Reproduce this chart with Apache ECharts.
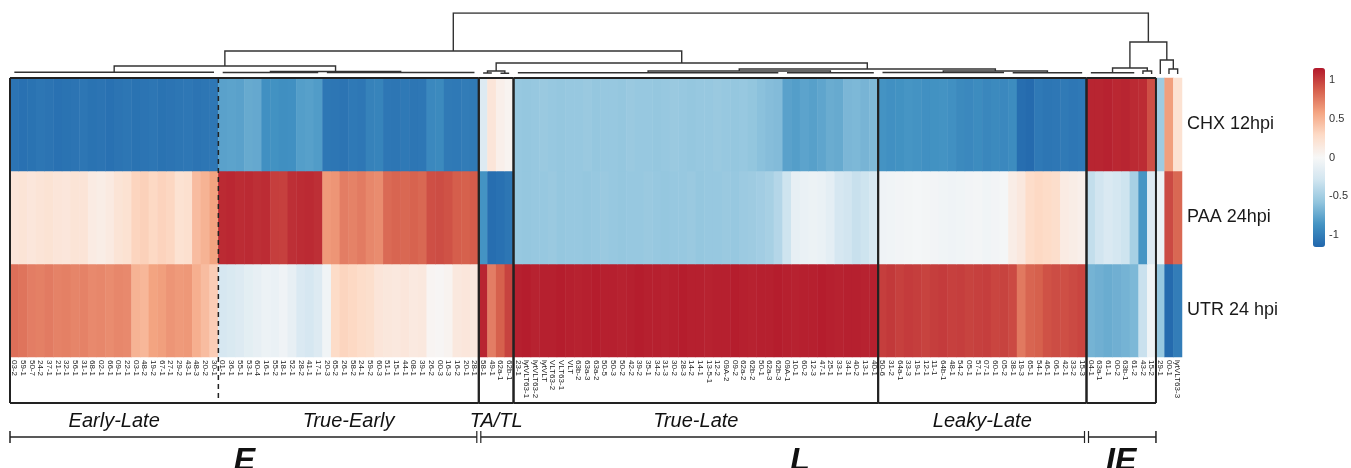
<!DOCTYPE html>
<html><head><meta charset="utf-8">
<script src="https://cdn.jsdelivr.net/npm/echarts@6/dist/echarts.min.js"></script>
<style>html,body{margin:0;padding:0;background:#fff}#c{width:1351px;height:468px}</style>
</head><body><div id="c"></div>
<script>
// ---------------- data ----------------
const earlyLate = ['03-2','59-1','50-7','24-2','37-1','21-1','32-1','56-1','31-1','68-1','02-1','66-1','09-1','22-1','03-1','48-2','19-2','67-1','27-1','29-2','43-1','48-3','20-2','30-1'];
const trueEarly = ['01-1','36-1','55-1','53-1','60-4','16-1','55-2','18-1','52-1','28-2','41-1','17-1','20-3','65-2','26-1','58-2','24-1','59-2','60-3','51-1','15-1','44-1','08-1','39-1','26-2','00-3','16-3','16-2','20-1','28-1'];
const taTl = ['58-1','49-1','62a-1','62b-1'];
const trueLate = ['23-1','lytVLT63-1','lytVLT63-2','lytVLT','VLT63-2','VLT63-1','VLT','63b-2','63a-3','63a-2','50-5','50-3','50-2','42-2','39-2','35-1','34-2','31-3','30-2','28-3','14-2','14-1','13-5-1','12-2','09A-2','09-2','62a-2','62b-2','50-1','62a-3','62b-3','09A-1','10-1','60-2','12-3','47-1','25-1','33-1','34-1','40-2','13-1','40-1'];
const leakyLate = ['50-6','31-2','64a-1','33-3','19-1','12-1','11-1','64b-1','48-1','54-2','05-1','57-1','07-1','60-1','05-2','38-1','19-3','65-1','54-1','46-1','06-1','42-1','33-2','15-3'];
const immediateEarly = ['04-1','63a-1','61-1','00-2','63b-1','61-2','43-2','15-2'];
const outliers = ['29-1','00-1','lytVLT63-3'];

const rowNames = ['UTR 24 hpi','PAA 24hpi','CHX 12hpi'];

const chxValues = [
 -1.06,-1.08,-1.07,-1.05,-1.06,-1.08,-1.07,-1.06,-1.05,-1.07,-1.06,-1.08,-1.06,-1.05,-1.07,-1.06,-1.05,-1.07,-1.06,-1.05,-1.04,-1.06,-1.05,-1.04,
 -0.78,-0.77,-0.78,-0.73,-0.74,-0.88,-0.87,-0.89,-0.88,-0.8,-0.79,-0.81,-1.04,-1.05,-1.06,-1.03,-1.04,-0.97,-0.96,-1.04,-1.05,-1.03,-1.05,-1.04,-0.93,-0.92,-1.02,-1.03,-1.01,-1.02,
 -0.2,0.18,0.08,0.04,
 -0.55,-0.56,-0.55,-0.54,-0.55,-0.56,-0.55,-0.55,-0.54,-0.56,-0.55,-0.55,-0.56,-0.54,-0.55,-0.55,-0.56,-0.55,-0.54,-0.55,-0.56,-0.55,-0.55,-0.54,-0.55,-0.56,-0.55,-0.57,-0.6,-0.62,-0.63,-0.78,-0.8,-0.77,-0.79,-0.76,-0.72,-0.73,-0.66,-0.65,-0.67,-0.64,
 -0.86,-0.88,-0.87,-0.85,-0.86,-0.88,-0.87,-0.86,-0.88,-0.92,-0.93,-0.91,-0.94,-0.92,-0.93,-0.91,-1.1,-1.12,-1.03,-1.05,-1.04,-1.02,-1.04,-1.03,
 1.1,1.1,1.11,1.09,1.1,1.08,1.07,0.93,
 -0.52,0.6,0.22
];
const paaValues = [
 0.18,0.2,0.17,0.19,0.21,0.18,0.17,0.2,0.19,0.12,0.1,0.13,0.2,0.22,0.32,0.34,0.3,0.33,0.31,0.22,0.24,0.45,0.5,0.58,
 1.08,1.09,1.07,1.08,1.06,1.07,1.0,0.99,1.06,1.07,1.08,1.06,0.62,0.64,0.74,0.72,0.75,0.7,0.68,0.82,0.84,0.83,0.85,0.83,0.93,0.94,0.92,0.87,0.86,0.88,
 -0.86,-1.1,-1.08,-1.05,
 -0.55,-0.56,-0.55,-0.55,-0.54,-0.56,-0.55,-0.55,-0.56,-0.55,-0.54,-0.55,-0.56,-0.55,-0.55,-0.54,-0.55,-0.56,-0.55,-0.55,-0.54,-0.56,-0.55,-0.55,-0.54,-0.55,-0.53,-0.52,-0.5,-0.48,-0.42,-0.3,-0.12,-0.1,-0.08,-0.1,-0.14,-0.25,-0.28,-0.33,-0.3,-0.24,
 -0.06,-0.05,-0.04,-0.03,-0.02,-0.03,-0.04,-0.05,-0.06,-0.05,-0.04,-0.03,-0.05,-0.04,-0.02,0.1,0.15,0.27,0.3,0.28,0.26,0.12,0.1,0.08,
 -0.35,-0.28,-0.22,-0.26,-0.3,-0.48,-0.85,-0.2,
 -0.08,0.95,0.83
];
const utrValues = [
 0.8,0.78,0.74,0.73,0.75,0.72,0.73,0.71,0.72,0.69,0.7,0.68,0.7,0.69,0.5,0.48,0.58,0.6,0.64,0.62,0.63,0.52,0.45,0.36,
 -0.25,-0.23,-0.2,-0.15,-0.12,-0.08,-0.1,-0.06,-0.12,-0.22,-0.25,-0.2,-0.05,0.28,0.32,0.3,0.27,0.25,0.18,0.16,0.15,0.17,0.14,0.15,0.03,0.02,0.04,0.15,0.17,0.14,
 1.1,0.74,0.86,0.98,
 1.12,1.13,1.11,1.12,1.12,1.13,1.12,1.11,1.12,1.13,1.12,1.12,1.11,1.12,1.13,1.12,1.12,1.11,1.12,1.13,1.12,1.12,1.11,1.12,1.12,1.13,1.12,1.11,1.12,1.12,1.13,1.12,1.11,1.12,1.12,1.13,1.12,1.11,1.12,1.12,1.11,1.12,
 1.0,1.02,0.99,1.01,1.0,0.98,1.0,1.01,0.99,1.0,0.98,0.99,1.0,0.97,0.98,0.95,0.76,0.84,0.86,0.92,0.94,0.93,0.95,0.97,
 -0.68,-0.7,-0.72,-0.7,-0.68,-0.65,-0.32,-0.05,
 -0.55,-1.12,-1.0
];

const legendTicks = [-1, -0.5, 0, 0.5, 1];
const groupNames = ['Early-Late','True-Early','TA/TL','True-Late','Leaky-Late'];
const classNames = ['E','L','IE'];

// dendrogram (column indices, merge heights)
const dendrogram = {h:61, c:[
  {h:23, c:[
    {h:8, c:[ {r:[0,23], h:1.7}, {h:2.5, c:[{r:[24,35], h:1.5}, {r:[36,53], h:1.5}]} ]},
    {h:11, c:[
      {h:3, c:[{r:[54,55], h:1}, {r:[56,57], h:0.8}]},
      {h:5, c:[
        {h:3, c:[{r:[58,88], h:1.2}, {r:[89,99], h:1.2}]},
        {h:3, c:[{r:[100,114], h:1.5}, {r:[115,123], h:1.2}]}
      ]}
    ]}
  ]},
  {h:32, c:[
    {h:6, c:[{r:[124,129], h:1.2}, {h:3, c:[{r:[130,130]}, {r:[131,131]}]}]},
    {h:14, c:[{r:[132,132]}, {h:5, c:[{r:[133,133]}, {r:[134,134]}]}]}
  ]}
]};

// ---------------- build ----------------
const columns = [].concat(earlyLate, trueEarly, taTl, trueLate, leakyLate, immediateEarly, outliers);
const N = columns.length;
const heatData = [];
[utrValues, paaValues, chxValues].forEach((arr, yi) => arr.forEach((v, xi) => heatData.push([xi, yi, v])));

const links = [];
function walk(n) {
  if (n.r) {
    const a = n.r[0], b = n.r[1];
    if (a === b) return {x: a, h: 0};
    links.push({coords: [[a, n.h], [b, n.h]]});
    return {x: (a + b) / 2, h: n.h};
  }
  const c1 = walk(n.c[0]), c2 = walk(n.c[1]);
  links.push({coords: [[c1.x, c1.h], [c1.x, n.h], [c2.x, n.h], [c2.x, c2.h]]});
  return {x: (c1.x + c2.x) / 2, h: n.h};
}
walk(dendrogram);

const GL = 10, GR = 169, HM_TOP = 78, HM_H = 279, BOX_BOTTOM = 403;
const FONT = '"Liberation Sans", Arial, sans-serif';

const chart = echarts.init(document.getElementById('c'), null, {renderer: 'canvas'});
chart.setOption({
  animation: false,
  backgroundColor: '#fff',
  grid: [
    {left: GL, right: GR, top: HM_TOP, height: HM_H},
    {left: GL, right: GR, top: 13, height: 61},
    {left: 1313, top: 68, width: 12, height: 179}
  ],
  xAxis: [
    {type: 'category', gridIndex: 0, data: columns, axisLine: {show: false}, axisTick: {show: false},
     axisLabel: {interval: 0, rotate: -90, fontSize: 8, margin: 3, color: '#1a1a1a', fontFamily: FONT}},
    {type: 'value', gridIndex: 1, min: -0.5, max: N - 0.5, show: false},
    {type: 'value', gridIndex: 2, min: 0, max: 1, show: false}
  ],
  yAxis: [
    {type: 'category', gridIndex: 0, data: rowNames, position: 'right', axisLine: {show: false}, axisTick: {show: false},
     axisLabel: {fontSize: 18, margin: 5, color: '#1a1a1a', fontFamily: FONT}},
    {type: 'value', gridIndex: 1, min: 0, max: 61, show: false},
    {type: 'value', gridIndex: 2, min: -1.15, max: 1.15, position: 'right',
     axisLine: {show: false}, axisTick: {show: false}, splitLine: {show: false},
     axisLabel: {customValues: legendTicks, margin: 7, fontSize: 11, color: '#333', fontFamily: FONT}}
  ],
  visualMap: {
    type: 'continuous', seriesIndex: 0, min: -1.15, max: 1.15, left: 1313, top: 68,
    itemWidth: 12, itemHeight: 179, padding: 0, calculable: false, text: ['', ''], showLabel: false,
    inRange: {color: ['#2166ac','#4393c3','#92c5de','#d1e5f0','#f7f7f7','#fddbc7','#f4a582','#d6604d','#b2182b']}
  },
  series: [
    {type: 'heatmap', xAxisIndex: 0, yAxisIndex: 0, data: heatData, silent: true,
     itemStyle: {borderWidth: 0}, emphasis: {disabled: true}},
    {type: 'lines', coordinateSystem: 'cartesian2d', xAxisIndex: 1, yAxisIndex: 1, polyline: true, silent: true,
     data: links, lineStyle: {color: '#333', width: 1.4, opacity: 1}}
  ]
});

// ---------------- annotations ----------------
const px = v => chart.convertToPixel({xAxisIndex: 1}, v);
const lens = [earlyLate.length, trueEarly.length, taTl.length, trueLate.length, leakyLate.length, immediateEarly.length];
const bounds = [0]; lens.forEach(l => bounds.push(bounds[bounds.length - 1] + l));
const bx = i => px(bounds[i] - 0.5);
const g = [];
const stroke = {stroke: '#222', lineWidth: 2};
function line(x1, y1, x2, y2, st) { g.push({type: 'line', z: 100, shape: {x1, y1, x2, y2}, style: Object.assign({}, stroke, st || {})}); }
// boxes: E block (EL+TE), TA/TL, True-Late, Leaky-Late, IE
const boxes = [[0, 2], [2, 3], [3, 4], [4, 5], [5, 6]];
boxes.forEach(([a, b]) => {
  const x1 = bx(a), x2 = bx(b);
  line(x1, HM_TOP, x2, HM_TOP); line(x1, BOX_BOTTOM, x2, BOX_BOTTOM);
  line(x1, HM_TOP, x1, BOX_BOTTOM); line(x2, HM_TOP, x2, BOX_BOTTOM);
});
line(bx(1), HM_TOP, bx(1), BOX_BOTTOM, {lineWidth: 1.5, lineDash: [5, 4]});
// group labels
groupNames.forEach((name, i) => {
  g.push({type: 'text', z: 100, x: (bx(i) + bx(i + 1)) / 2, y: 421,
    style: {text: name, font: 'italic 20px ' + FONT, fill: '#111', align: 'center', verticalAlign: 'middle'}});
});
// class brackets
const by = 437, tk = 6, gap = 2;
const spans = [[bx(0), bx(2)], [bx(2), bx(5)], [bx(5), bx(6)]];
line(spans[0][0], by, spans[0][1] - gap, by, {lineWidth: 1.5});
line(spans[0][0], by - tk, spans[0][0], by + tk, {lineWidth: 1.5});
line(spans[0][1] - gap, by - tk, spans[0][1] - gap, by + tk, {lineWidth: 1.2});
line(spans[1][0] + gap, by - tk, spans[1][0] + gap, by + tk, {lineWidth: 1.2});
line(spans[1][0] + gap, by, spans[1][1] - gap, by, {lineWidth: 1.5});
line(spans[1][1] - gap, by - tk, spans[1][1] - gap, by + tk, {lineWidth: 1.2});
line(spans[2][0] + gap, by - tk, spans[2][0] + gap, by + tk, {lineWidth: 1.2});
line(spans[2][0] + gap, by, spans[2][1], by, {lineWidth: 1.5});
line(spans[2][1], by - tk, spans[2][1], by + tk, {lineWidth: 1.5});
// class letters: E over EL+TE, L over True-Late+Leaky-Late, IE over IE box
const letterSpans = [[bx(0), bx(2)], [bx(3), bx(5)], [bx(5), bx(6)]];
classNames.forEach((name, i) => {
  g.push({type: 'text', z: 100, x: (letterSpans[i][0] + letterSpans[i][1]) / 2, y: 461,
    style: {text: name, font: 'italic bold 32px ' + FONT, fill: '#111', align: 'center', verticalAlign: 'middle'}});
});
chart.setOption({graphic: g});
</script>
</body></html>
